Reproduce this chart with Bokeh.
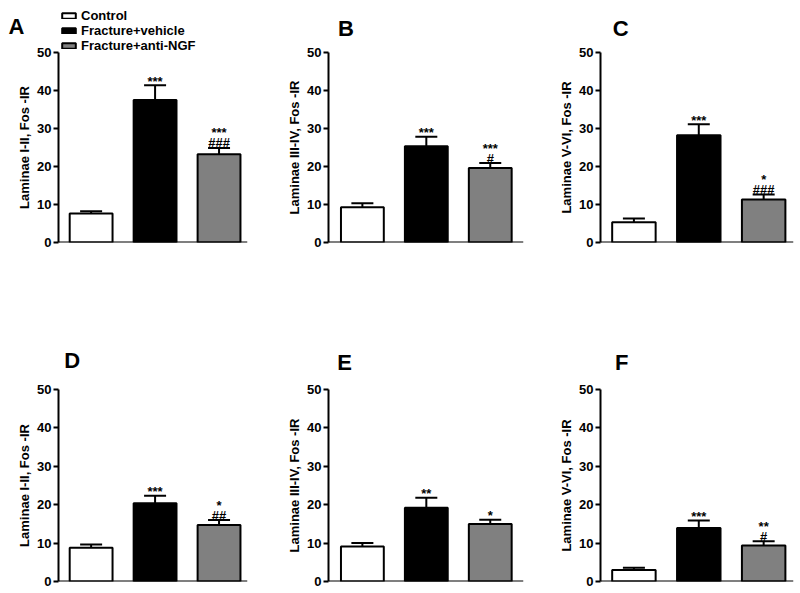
from bokeh.plotting import figure
from bokeh.models import (ColumnDataSource, Range1d, FixedTicker, Span, Whisker,
                          TeeHead, Label, Legend, LegendItem)
from bokeh.layouts import row, column
from bokeh.embed import file_html
from bokeh.resources import INLINE
from bokeh.core.properties import value

# ---------------- data ----------------
groups = ["Control", "Fracture+vehicle", "Fracture+anti-NGF"]
panel_letters = ["A", "B", "C", "D", "E", "F"]
y_labels = ["Laminae I-II, Fos -IR", "Laminae III-IV, Fos -IR", "Laminae V-VI, Fos -IR",
            "Laminae I-II, Fos -IR", "Laminae III-IV, Fos -IR", "Laminae V-VI, Fos -IR"]
y_ticks = [0, 10, 20, 30, 40, 50]

mean_A = [7.6, 37.5, 23.2]
sem_A = [0.6, 3.9, 1.7]
mean_B = [9.3, 25.3, 19.6]
sem_B = [1.0, 2.5, 1.3]
mean_C = [5.3, 28.2, 11.3]
sem_C = [1.0, 2.9, 1.3]
mean_D = [8.8, 20.4, 14.7]
sem_D = [0.85, 1.9, 1.3]
mean_E = [9.1, 19.2, 15.0]
sem_E = [0.9, 2.6, 1.1]
mean_F = [3.0, 13.9, 9.4]
sem_F = [0.6, 2.0, 1.1]

stars_A = ["", "***", "***"]
hash_A = ["", "", "###"]
stars_B = ["", "***", "***"]
hash_B = ["", "", "#"]
stars_C = ["", "***", "*"]
hash_C = ["", "", "###"]
stars_D = ["", "***", "*"]
hash_D = ["", "", "##"]
stars_E = ["", "**", "*"]
hash_E = ["", "", ""]
stars_F = ["", "***", "**"]
hash_F = ["", "", "#"]

means = [mean_A, mean_B, mean_C, mean_D, mean_E, mean_F]
sems = [sem_A, sem_B, sem_C, sem_D, sem_E, sem_F]
stars = [stars_A, stars_B, stars_C, stars_D, stars_E, stars_F]
hashes = [hash_A, hash_B, hash_C, hash_D, hash_E, hash_F]

# ---------------- style / layout ----------------
FONT = "Liberation Sans"
fills = ["white", "black", "#808080"]
col_geom = [
    dict(width=265, left=58, right=18, xr=(0.49, 3.445)),
    dict(width=265, left=63, right=7, xr=(0.47, 3.52)),
    dict(width=268, left=70, right=5, xr=(0.485, 3.46)),
]
# strip = band above each panel holding the panel letter (and the legend)
row_geom = [
    dict(strip=46, height=250, top=6, bottom=54),
    dict(strip=87, height=209, top=6, bottom=11),
]
letter_pos = [(8, 26), (13, 28), (17, 28), (8, 64), (12, 66), (20, 66)]
OVERLAP = 9  # legend strip reaches this far into panel A's (transparent) top border


def bare_fig(w, h):
    f = figure(width=w, height=h, x_range=Range1d(0, w), y_range=Range1d(h, 0),
               output_backend="svg", toolbar_location=None, title=None,
               x_axis_location=None, y_axis_location=None,
               min_border_left=0, min_border_right=0,
               min_border_top=0, min_border_bottom=0)
    f.outline_line_color = None
    f.grid.visible = False
    f.background_fill_color = "white"
    f.border_fill_color = "white"
    return f


cells = []
for k in range(6):
    cg = col_geom[k % 3]
    rg = row_geom[k // 3]
    p = figure(width=cg["width"], height=rg["height"],
               x_range=Range1d(*cg["xr"]), y_range=Range1d(0, 50),
               output_backend="svg", toolbar_location=None, title=None,
               x_axis_location=None,
               min_border_left=cg["left"], min_border_right=cg["right"],
               min_border_top=rg["top"], min_border_bottom=rg["bottom"])
    p.outline_line_color = None
    p.grid.visible = False
    p.background_fill_color = "white"
    p.border_fill_color = "white"

    xs = [1, 2, 3]
    m = means[k]
    s = sems[k]
    tops = [a + b for a, b in zip(m, s)]
    star_off = [(-15 if h else -4) for h in hashes[k]]
    hash_off = [-5 for _ in hashes[k]]
    src = ColumnDataSource(dict(x=xs, mean=m, top=tops, color=fills, group=groups,
                                stars=stars[k], hashes=hashes[k],
                                star_off=star_off, hash_off=hash_off))

    p.vbar(x="x", top="mean", bottom=0, width=0.67, source=src,
           fill_color="color", line_color="black", line_width=2)

    p.add_layout(Whisker(base="x", upper="top", lower="mean", source=src,
                         dimension="height", line_color="black", line_width=2,
                         upper_head=TeeHead(size=22, line_color="black", line_width=2),
                         lower_head=None))

    p.text(x="x", y="top", text="stars", source=src, y_offset="star_off",
           text_font=value(FONT), text_font_size=value("13px"), text_font_style="bold",
           text_align="center", text_baseline="alphabetic", text_color="black")
    p.text(x="x", y="top", text="hashes", source=src, y_offset="hash_off",
           text_font=value(FONT), text_font_size=value("13px"), text_font_style="bold",
           text_align="center", text_baseline="alphabetic", text_color="black")

    p.add_layout(Span(location=0, dimension="width", line_color="black", line_width=2))

    ax = p.yaxis[0]
    ax.ticker = FixedTicker(ticks=y_ticks)
    ax.minor_tick_line_color = None
    ax.major_tick_in = 0
    ax.major_tick_out = 5
    ax.major_tick_line_width = 2
    ax.axis_line_width = 2
    ax.major_label_standoff = 2
    ax.major_label_text_font = FONT
    ax.major_label_text_font_size = "13px"
    ax.major_label_text_font_style = "bold"
    ax.major_label_text_color = "black"
    ax.axis_label = y_labels[k]
    ax.axis_label_text_font = FONT
    ax.axis_label_text_font_size = "13px"
    ax.axis_label_text_font_style = "bold"
    ax.axis_label_text_color = "black"
    ax.axis_label_standoff = 2

    lx, ly = letter_pos[k]
    if k == 0:
        sh = rg["strip"] + OVERLAP
        let = bare_fig(cg["left"], sh)
        let.add_layout(Label(x=lx, y=ly, text=panel_letters[k], text_font=FONT,
                             text_font_size="22px", text_font_style="bold",
                             text_baseline="alphabetic", text_color="black"))
        lg = figure(width=cg["width"] - cg["left"], height=sh,
                    x_range=Range1d(0, 1), y_range=Range1d(0, 1),
                    output_backend="svg", toolbar_location=None, title=None,
                    x_axis_location=None, y_axis_location=None,
                    min_border_left=0, min_border_right=0,
                    min_border_top=0, min_border_bottom=0)
        lg.outline_line_color = None
        lg.grid.visible = False
        lg.background_fill_alpha = 0
        lg.border_fill_alpha = 0
        let.background_fill_alpha = 0
        let.border_fill_alpha = 0
        # hidden proxy bars (same data) that give the legend its swatches
        proxy = lg.vbar(x="x", top="mean", bottom=0, width=0.67, source=src,
                        fill_color="color", line_color="black", line_width=2)
        proxy.visible = False
        legend = Legend(items=[LegendItem(label=g, renderers=[proxy], index=i)
                               for i, g in enumerate(groups)],
                        location="bottom_left", padding=0, margin=2, spacing=-1,
                        glyph_width=17, glyph_height=7, label_height=13,
                        label_standoff=4, label_text_font=FONT,
                        label_text_font_size="13px", label_text_font_style="bold",
                        label_text_color="black",
                        border_line_color=None, background_fill_alpha=0)
        lg.add_layout(legend, "center")
        let.margin = (0, 0, -OVERLAP, 0)
        lg.margin = (0, 0, -OVERLAP, 0)
        p.border_fill_alpha = 0
        cells.append(column(row(let, lg), p))
    else:
        let = bare_fig(cg["width"], rg["strip"])
        let.add_layout(Label(x=lx, y=ly, text=panel_letters[k], text_font=FONT,
                             text_font_size="22px", text_font_style="bold",
                             text_baseline="alphabetic", text_color="black"))
        cells.append(column(let, p))

layout = column(row(*cells[0:3]), row(*cells[3:6]))

open("out.html", "w").write(file_html(layout, INLINE))
